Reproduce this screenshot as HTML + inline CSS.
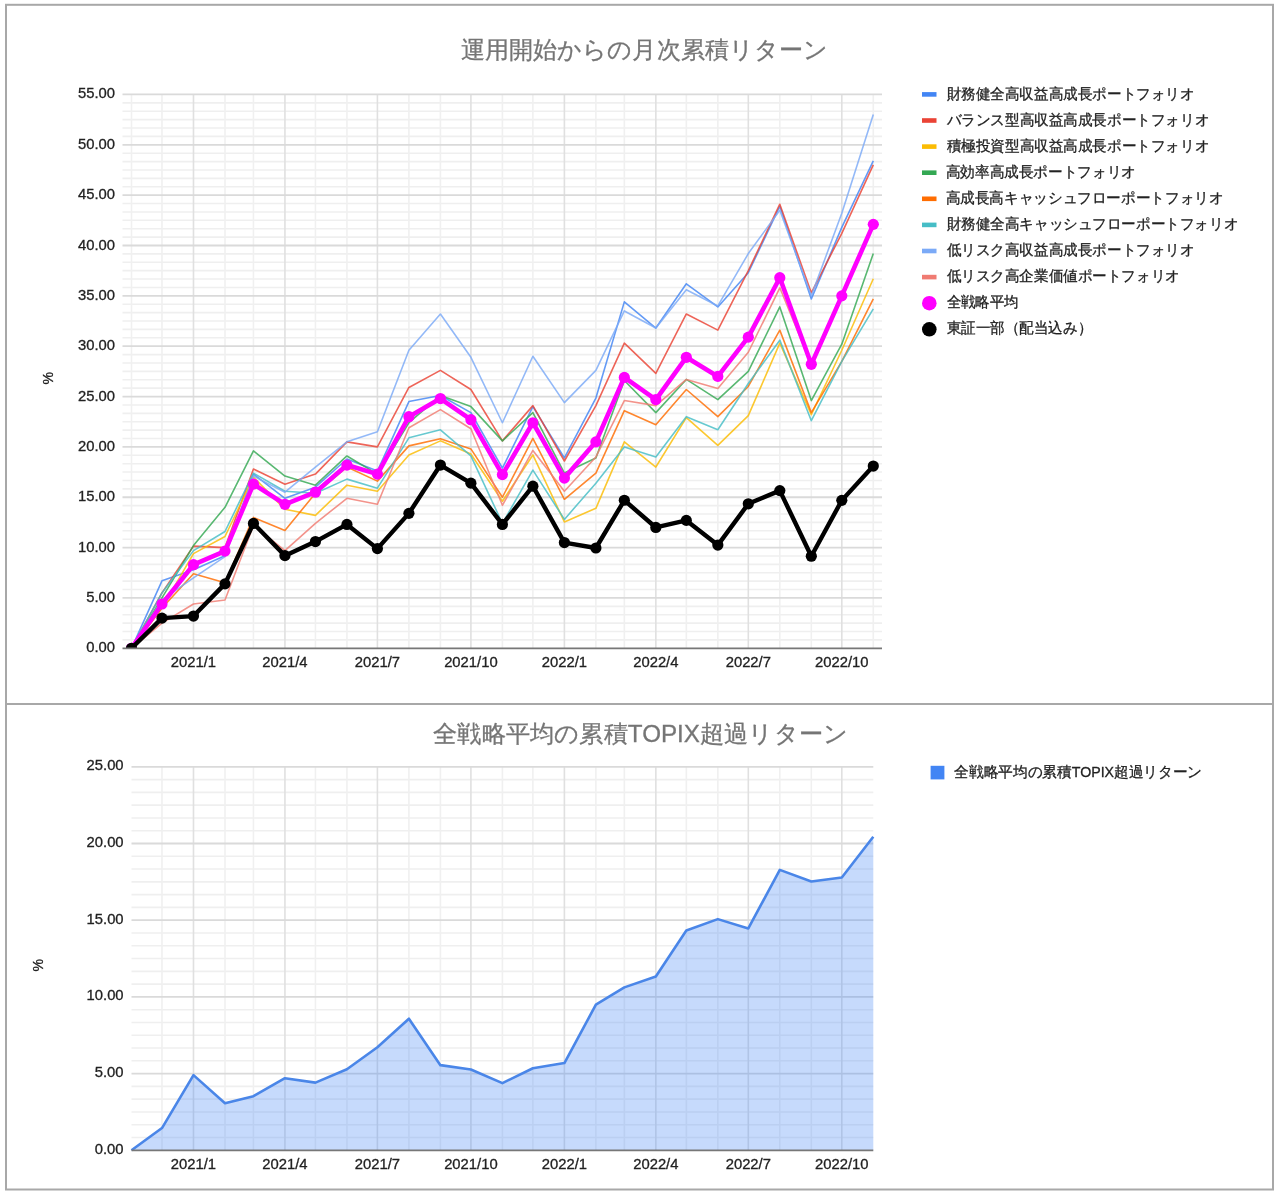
<!DOCTYPE html><html><head><meta charset="utf-8"><style>html,body{margin:0;padding:0;background:#fff;}svg{display:block;filter:blur(0.45px);}text{font-family:"Liberation Sans",sans-serif;stroke-width:0.3px;}</style></head><body>
<svg width="1279" height="1197" viewBox="0 0 1279 1197">
<rect x="0" y="0" width="1279" height="1197" fill="#fff"/>
<defs><clipPath id="cp1"><rect x="100" y="60" width="800" height="588.3"/></clipPath><clipPath id="cp2"><rect x="100" y="740" width="800" height="410.29999999999995"/></clipPath></defs>
<line x1="122.5" y1="639.91" x2="882.0" y2="639.91" stroke="#efefef" stroke-width="1.6"/>
<line x1="122.5" y1="631.52" x2="882.0" y2="631.52" stroke="#efefef" stroke-width="1.6"/>
<line x1="122.5" y1="623.12" x2="882.0" y2="623.12" stroke="#efefef" stroke-width="1.6"/>
<line x1="122.5" y1="614.73" x2="882.0" y2="614.73" stroke="#efefef" stroke-width="1.6"/>
<line x1="122.5" y1="606.34" x2="882.0" y2="606.34" stroke="#efefef" stroke-width="1.6"/>
<line x1="122.5" y1="589.56" x2="882.0" y2="589.56" stroke="#efefef" stroke-width="1.6"/>
<line x1="122.5" y1="581.17" x2="882.0" y2="581.17" stroke="#efefef" stroke-width="1.6"/>
<line x1="122.5" y1="572.77" x2="882.0" y2="572.77" stroke="#efefef" stroke-width="1.6"/>
<line x1="122.5" y1="564.38" x2="882.0" y2="564.38" stroke="#efefef" stroke-width="1.6"/>
<line x1="122.5" y1="555.99" x2="882.0" y2="555.99" stroke="#efefef" stroke-width="1.6"/>
<line x1="122.5" y1="539.21" x2="882.0" y2="539.21" stroke="#efefef" stroke-width="1.6"/>
<line x1="122.5" y1="530.82" x2="882.0" y2="530.82" stroke="#efefef" stroke-width="1.6"/>
<line x1="122.5" y1="522.42" x2="882.0" y2="522.42" stroke="#efefef" stroke-width="1.6"/>
<line x1="122.5" y1="514.03" x2="882.0" y2="514.03" stroke="#efefef" stroke-width="1.6"/>
<line x1="122.5" y1="505.64" x2="882.0" y2="505.64" stroke="#efefef" stroke-width="1.6"/>
<line x1="122.5" y1="488.86" x2="882.0" y2="488.86" stroke="#efefef" stroke-width="1.6"/>
<line x1="122.5" y1="480.47" x2="882.0" y2="480.47" stroke="#efefef" stroke-width="1.6"/>
<line x1="122.5" y1="472.07" x2="882.0" y2="472.07" stroke="#efefef" stroke-width="1.6"/>
<line x1="122.5" y1="463.68" x2="882.0" y2="463.68" stroke="#efefef" stroke-width="1.6"/>
<line x1="122.5" y1="455.29" x2="882.0" y2="455.29" stroke="#efefef" stroke-width="1.6"/>
<line x1="122.5" y1="438.51" x2="882.0" y2="438.51" stroke="#efefef" stroke-width="1.6"/>
<line x1="122.5" y1="430.12" x2="882.0" y2="430.12" stroke="#efefef" stroke-width="1.6"/>
<line x1="122.5" y1="421.72" x2="882.0" y2="421.72" stroke="#efefef" stroke-width="1.6"/>
<line x1="122.5" y1="413.33" x2="882.0" y2="413.33" stroke="#efefef" stroke-width="1.6"/>
<line x1="122.5" y1="404.94" x2="882.0" y2="404.94" stroke="#efefef" stroke-width="1.6"/>
<line x1="122.5" y1="388.16" x2="882.0" y2="388.16" stroke="#efefef" stroke-width="1.6"/>
<line x1="122.5" y1="379.77" x2="882.0" y2="379.77" stroke="#efefef" stroke-width="1.6"/>
<line x1="122.5" y1="371.37" x2="882.0" y2="371.37" stroke="#efefef" stroke-width="1.6"/>
<line x1="122.5" y1="362.98" x2="882.0" y2="362.98" stroke="#efefef" stroke-width="1.6"/>
<line x1="122.5" y1="354.59" x2="882.0" y2="354.59" stroke="#efefef" stroke-width="1.6"/>
<line x1="122.5" y1="337.81" x2="882.0" y2="337.81" stroke="#efefef" stroke-width="1.6"/>
<line x1="122.5" y1="329.42" x2="882.0" y2="329.42" stroke="#efefef" stroke-width="1.6"/>
<line x1="122.5" y1="321.02" x2="882.0" y2="321.02" stroke="#efefef" stroke-width="1.6"/>
<line x1="122.5" y1="312.63" x2="882.0" y2="312.63" stroke="#efefef" stroke-width="1.6"/>
<line x1="122.5" y1="304.24" x2="882.0" y2="304.24" stroke="#efefef" stroke-width="1.6"/>
<line x1="122.5" y1="287.46" x2="882.0" y2="287.46" stroke="#efefef" stroke-width="1.6"/>
<line x1="122.5" y1="279.07" x2="882.0" y2="279.07" stroke="#efefef" stroke-width="1.6"/>
<line x1="122.5" y1="270.67" x2="882.0" y2="270.67" stroke="#efefef" stroke-width="1.6"/>
<line x1="122.5" y1="262.28" x2="882.0" y2="262.28" stroke="#efefef" stroke-width="1.6"/>
<line x1="122.5" y1="253.89" x2="882.0" y2="253.89" stroke="#efefef" stroke-width="1.6"/>
<line x1="122.5" y1="237.11" x2="882.0" y2="237.11" stroke="#efefef" stroke-width="1.6"/>
<line x1="122.5" y1="228.72" x2="882.0" y2="228.72" stroke="#efefef" stroke-width="1.6"/>
<line x1="122.5" y1="220.32" x2="882.0" y2="220.32" stroke="#efefef" stroke-width="1.6"/>
<line x1="122.5" y1="211.93" x2="882.0" y2="211.93" stroke="#efefef" stroke-width="1.6"/>
<line x1="122.5" y1="203.54" x2="882.0" y2="203.54" stroke="#efefef" stroke-width="1.6"/>
<line x1="122.5" y1="186.76" x2="882.0" y2="186.76" stroke="#efefef" stroke-width="1.6"/>
<line x1="122.5" y1="178.37" x2="882.0" y2="178.37" stroke="#efefef" stroke-width="1.6"/>
<line x1="122.5" y1="169.97" x2="882.0" y2="169.97" stroke="#efefef" stroke-width="1.6"/>
<line x1="122.5" y1="161.58" x2="882.0" y2="161.58" stroke="#efefef" stroke-width="1.6"/>
<line x1="122.5" y1="153.19" x2="882.0" y2="153.19" stroke="#efefef" stroke-width="1.6"/>
<line x1="122.5" y1="136.41" x2="882.0" y2="136.41" stroke="#efefef" stroke-width="1.6"/>
<line x1="122.5" y1="128.02" x2="882.0" y2="128.02" stroke="#efefef" stroke-width="1.6"/>
<line x1="122.5" y1="119.62" x2="882.0" y2="119.62" stroke="#efefef" stroke-width="1.6"/>
<line x1="122.5" y1="111.23" x2="882.0" y2="111.23" stroke="#efefef" stroke-width="1.6"/>
<line x1="122.5" y1="102.84" x2="882.0" y2="102.84" stroke="#efefef" stroke-width="1.6"/>
<line x1="131.50" y1="94.45" x2="131.50" y2="648.30" stroke="#f0f0f0" stroke-width="1.6"/>
<line x1="161.98" y1="94.45" x2="161.98" y2="648.30" stroke="#f0f0f0" stroke-width="1.6"/>
<line x1="193.49" y1="94.45" x2="193.49" y2="648.30" stroke="#e0e0e0" stroke-width="1.6"/>
<line x1="224.99" y1="94.45" x2="224.99" y2="648.30" stroke="#f0f0f0" stroke-width="1.6"/>
<line x1="253.44" y1="94.45" x2="253.44" y2="648.30" stroke="#f0f0f0" stroke-width="1.6"/>
<line x1="284.94" y1="94.45" x2="284.94" y2="648.30" stroke="#e0e0e0" stroke-width="1.6"/>
<line x1="315.43" y1="94.45" x2="315.43" y2="648.30" stroke="#f0f0f0" stroke-width="1.6"/>
<line x1="346.93" y1="94.45" x2="346.93" y2="648.30" stroke="#f0f0f0" stroke-width="1.6"/>
<line x1="377.41" y1="94.45" x2="377.41" y2="648.30" stroke="#e0e0e0" stroke-width="1.6"/>
<line x1="408.91" y1="94.45" x2="408.91" y2="648.30" stroke="#f0f0f0" stroke-width="1.6"/>
<line x1="440.41" y1="94.45" x2="440.41" y2="648.30" stroke="#f0f0f0" stroke-width="1.6"/>
<line x1="470.90" y1="94.45" x2="470.90" y2="648.30" stroke="#e0e0e0" stroke-width="1.6"/>
<line x1="502.40" y1="94.45" x2="502.40" y2="648.30" stroke="#f0f0f0" stroke-width="1.6"/>
<line x1="532.88" y1="94.45" x2="532.88" y2="648.30" stroke="#f0f0f0" stroke-width="1.6"/>
<line x1="564.39" y1="94.45" x2="564.39" y2="648.30" stroke="#e0e0e0" stroke-width="1.6"/>
<line x1="595.89" y1="94.45" x2="595.89" y2="648.30" stroke="#f0f0f0" stroke-width="1.6"/>
<line x1="624.34" y1="94.45" x2="624.34" y2="648.30" stroke="#f0f0f0" stroke-width="1.6"/>
<line x1="655.84" y1="94.45" x2="655.84" y2="648.30" stroke="#e0e0e0" stroke-width="1.6"/>
<line x1="686.33" y1="94.45" x2="686.33" y2="648.30" stroke="#f0f0f0" stroke-width="1.6"/>
<line x1="717.83" y1="94.45" x2="717.83" y2="648.30" stroke="#f0f0f0" stroke-width="1.6"/>
<line x1="748.31" y1="94.45" x2="748.31" y2="648.30" stroke="#e0e0e0" stroke-width="1.6"/>
<line x1="779.81" y1="94.45" x2="779.81" y2="648.30" stroke="#f0f0f0" stroke-width="1.6"/>
<line x1="811.31" y1="94.45" x2="811.31" y2="648.30" stroke="#f0f0f0" stroke-width="1.6"/>
<line x1="841.80" y1="94.45" x2="841.80" y2="648.30" stroke="#e0e0e0" stroke-width="1.6"/>
<line x1="873.30" y1="94.45" x2="873.30" y2="648.30" stroke="#f0f0f0" stroke-width="1.6"/>
<line x1="122.5" y1="597.95" x2="882.0" y2="597.95" stroke="#dadada" stroke-width="1.8"/>
<line x1="122.5" y1="547.60" x2="882.0" y2="547.60" stroke="#dadada" stroke-width="1.8"/>
<line x1="122.5" y1="497.25" x2="882.0" y2="497.25" stroke="#dadada" stroke-width="1.8"/>
<line x1="122.5" y1="446.90" x2="882.0" y2="446.90" stroke="#dadada" stroke-width="1.8"/>
<line x1="122.5" y1="396.55" x2="882.0" y2="396.55" stroke="#dadada" stroke-width="1.8"/>
<line x1="122.5" y1="346.20" x2="882.0" y2="346.20" stroke="#dadada" stroke-width="1.8"/>
<line x1="122.5" y1="295.85" x2="882.0" y2="295.85" stroke="#dadada" stroke-width="1.8"/>
<line x1="122.5" y1="245.50" x2="882.0" y2="245.50" stroke="#dadada" stroke-width="1.8"/>
<line x1="122.5" y1="195.15" x2="882.0" y2="195.15" stroke="#dadada" stroke-width="1.8"/>
<line x1="122.5" y1="144.80" x2="882.0" y2="144.80" stroke="#dadada" stroke-width="1.8"/>
<line x1="122.5" y1="94.45" x2="882.0" y2="94.45" stroke="#dadada" stroke-width="1.8"/>
<text x="115" y="652.30" font-size="14.8" fill="#222" stroke="#222" text-anchor="end">0.00</text>
<text x="115" y="601.95" font-size="14.8" fill="#222" stroke="#222" text-anchor="end">5.00</text>
<text x="115" y="551.60" font-size="14.8" fill="#222" stroke="#222" text-anchor="end">10.00</text>
<text x="115" y="501.25" font-size="14.8" fill="#222" stroke="#222" text-anchor="end">15.00</text>
<text x="115" y="450.90" font-size="14.8" fill="#222" stroke="#222" text-anchor="end">20.00</text>
<text x="115" y="400.55" font-size="14.8" fill="#222" stroke="#222" text-anchor="end">25.00</text>
<text x="115" y="350.20" font-size="14.8" fill="#222" stroke="#222" text-anchor="end">30.00</text>
<text x="115" y="299.85" font-size="14.8" fill="#222" stroke="#222" text-anchor="end">35.00</text>
<text x="115" y="249.50" font-size="14.8" fill="#222" stroke="#222" text-anchor="end">40.00</text>
<text x="115" y="199.15" font-size="14.8" fill="#222" stroke="#222" text-anchor="end">45.00</text>
<text x="115" y="148.80" font-size="14.8" fill="#222" stroke="#222" text-anchor="end">50.00</text>
<text x="115" y="98.45" font-size="14.8" fill="#222" stroke="#222" text-anchor="end">55.00</text>
<text x="193.49" y="667" font-size="14.8" fill="#222" stroke="#222" text-anchor="middle">2021/1</text>
<text x="284.94" y="667" font-size="14.8" fill="#222" stroke="#222" text-anchor="middle">2021/4</text>
<text x="377.41" y="667" font-size="14.8" fill="#222" stroke="#222" text-anchor="middle">2021/7</text>
<text x="470.90" y="667" font-size="14.8" fill="#222" stroke="#222" text-anchor="middle">2021/10</text>
<text x="564.39" y="667" font-size="14.8" fill="#222" stroke="#222" text-anchor="middle">2022/1</text>
<text x="655.84" y="667" font-size="14.8" fill="#222" stroke="#222" text-anchor="middle">2022/4</text>
<text x="748.31" y="667" font-size="14.8" fill="#222" stroke="#222" text-anchor="middle">2022/7</text>
<text x="841.80" y="667" font-size="14.8" fill="#222" stroke="#222" text-anchor="middle">2022/10</text>
<text x="0" y="0" font-size="14" fill="#222" stroke="#222" text-anchor="middle" transform="translate(53.4,378.3) rotate(-90)">%</text>
<g clip-path="url(#cp1)">
<polyline points="131.50,648.30 161.98,580.83 193.49,569.75 224.99,555.66 253.44,474.09 284.94,498.26 315.43,487.18 346.93,458.98 377.41,471.07 408.91,401.58 440.41,395.54 470.90,412.66 502.40,468.05 532.88,406.62 564.39,457.98 595.89,398.06 624.34,301.89 655.84,328.07 686.33,283.77 717.83,306.93 748.31,272.69 779.81,206.23 811.31,298.87 841.80,227.37 873.30,160.91" fill="none" stroke="#4285f4" stroke-width="1.6" stroke-linejoin="round" stroke-opacity="0.82"/>
<polyline points="131.50,648.30 161.98,592.91 193.49,546.09 224.99,547.60 253.44,469.05 284.94,484.16 315.43,474.09 346.93,441.86 377.41,446.90 408.91,387.49 440.41,370.37 470.90,389.50 502.40,440.86 532.88,405.61 564.39,461.00 595.89,405.61 624.34,343.18 655.84,373.39 686.33,313.98 717.83,330.09 748.31,270.67 779.81,204.21 811.31,292.83 841.80,233.42 873.30,164.94" fill="none" stroke="#ea4335" stroke-width="1.6" stroke-linejoin="round" stroke-opacity="0.82"/>
<polyline points="131.50,648.30 161.98,608.02 193.49,553.64 224.99,536.52 253.44,477.11 284.94,509.33 315.43,515.38 346.93,485.17 377.41,491.21 408.91,454.96 440.41,440.86 470.90,453.95 502.40,501.28 532.88,454.96 564.39,521.92 595.89,508.33 624.34,441.86 655.84,467.04 686.33,417.70 717.83,445.39 748.31,415.68 779.81,343.18 811.31,414.68 841.80,350.23 873.30,278.73" fill="none" stroke="#fbbc04" stroke-width="1.6" stroke-linejoin="round" stroke-opacity="0.82"/>
<polyline points="131.50,648.30 161.98,597.95 193.49,545.59 224.99,507.32 253.44,450.93 284.94,476.10 315.43,485.17 346.93,455.96 377.41,474.09 408.91,422.73 440.41,395.54 470.90,406.62 502.40,440.86 532.88,412.66 564.39,473.08 595.89,457.98 624.34,380.44 655.84,412.66 686.33,379.43 717.83,399.57 748.31,371.37 779.81,306.93 811.31,400.58 841.80,344.19 873.30,253.56" fill="none" stroke="#34a853" stroke-width="1.6" stroke-linejoin="round" stroke-opacity="0.82"/>
<polyline points="131.50,648.30 161.98,608.02 193.49,573.78 224.99,582.84 253.44,517.39 284.94,530.48 315.43,493.22 346.93,467.04 377.41,481.14 408.91,445.89 440.41,438.84 470.90,448.91 502.40,497.25 532.88,438.34 564.39,499.26 595.89,473.08 624.34,410.65 655.84,424.75 686.33,389.50 717.83,416.69 748.31,386.48 779.81,330.09 811.31,412.66 841.80,361.30 873.30,298.87" fill="none" stroke="#ff6d01" stroke-width="1.6" stroke-linejoin="round" stroke-opacity="0.82"/>
<polyline points="131.50,648.30 161.98,592.91 193.49,550.62 224.99,531.49 253.44,473.08 284.94,491.21 315.43,493.22 346.93,479.12 377.41,488.19 408.91,437.84 440.41,429.78 470.90,455.96 502.40,523.43 532.88,470.06 564.39,519.40 595.89,483.15 624.34,446.90 655.84,456.97 686.33,416.69 717.83,429.78 748.31,383.46 779.81,340.16 811.31,420.72 841.80,361.30 873.30,308.94" fill="none" stroke="#46bdc6" stroke-width="1.6" stroke-linejoin="round" stroke-opacity="0.82"/>
<polyline points="131.50,648.30 161.98,599.96 193.49,577.81 224.99,556.66 253.44,476.10 284.94,492.21 315.43,467.04 346.93,441.86 377.41,431.79 408.91,350.23 440.41,313.98 470.90,357.28 502.40,422.73 532.88,356.27 564.39,402.59 595.89,370.37 624.34,310.95 655.84,328.07 686.33,289.81 717.83,305.92 748.31,253.56 779.81,210.25 811.31,295.85 841.80,213.28 873.30,114.59" fill="none" stroke="#7baaf7" stroke-width="1.6" stroke-linejoin="round" stroke-opacity="0.82"/>
<polyline points="131.50,648.30 161.98,623.12 193.49,603.99 224.99,599.96 253.44,525.45 284.94,550.62 315.43,523.43 346.93,498.26 377.41,504.30 408.91,427.77 440.41,409.64 470.90,428.77 502.40,505.31 532.88,450.42 564.39,491.21 595.89,456.97 624.34,400.58 655.84,405.61 686.33,379.43 717.83,388.49 748.31,352.24 779.81,287.79 811.31,364.33 841.80,295.85 873.30,224.35" fill="none" stroke="#f07b72" stroke-width="1.6" stroke-linejoin="round" stroke-opacity="0.82"/>
<polyline points="131.50,648.30 161.98,603.99 193.49,564.72 224.99,551.12 253.44,484.16 284.94,504.30 315.43,492.21 346.93,465.03 377.41,474.09 408.91,416.69 440.41,398.56 470.90,419.71 502.40,474.59 532.88,422.73 564.39,478.12 595.89,441.86 624.34,377.42 655.84,399.57 686.33,357.28 717.83,376.41 748.31,337.14 779.81,277.72 811.31,364.33 841.80,295.85 873.30,224.35" fill="none" stroke="#ff00ff" stroke-width="4.6" stroke-linejoin="round"/>
<circle cx="131.50" cy="648.30" r="5.6" fill="#ff00ff"/>
<circle cx="161.98" cy="603.99" r="5.6" fill="#ff00ff"/>
<circle cx="193.49" cy="564.72" r="5.6" fill="#ff00ff"/>
<circle cx="224.99" cy="551.12" r="5.6" fill="#ff00ff"/>
<circle cx="253.44" cy="484.16" r="5.6" fill="#ff00ff"/>
<circle cx="284.94" cy="504.30" r="5.6" fill="#ff00ff"/>
<circle cx="315.43" cy="492.21" r="5.6" fill="#ff00ff"/>
<circle cx="346.93" cy="465.03" r="5.6" fill="#ff00ff"/>
<circle cx="377.41" cy="474.09" r="5.6" fill="#ff00ff"/>
<circle cx="408.91" cy="416.69" r="5.6" fill="#ff00ff"/>
<circle cx="440.41" cy="398.56" r="5.6" fill="#ff00ff"/>
<circle cx="470.90" cy="419.71" r="5.6" fill="#ff00ff"/>
<circle cx="502.40" cy="474.59" r="5.6" fill="#ff00ff"/>
<circle cx="532.88" cy="422.73" r="5.6" fill="#ff00ff"/>
<circle cx="564.39" cy="478.12" r="5.6" fill="#ff00ff"/>
<circle cx="595.89" cy="441.86" r="5.6" fill="#ff00ff"/>
<circle cx="624.34" cy="377.42" r="5.6" fill="#ff00ff"/>
<circle cx="655.84" cy="399.57" r="5.6" fill="#ff00ff"/>
<circle cx="686.33" cy="357.28" r="5.6" fill="#ff00ff"/>
<circle cx="717.83" cy="376.41" r="5.6" fill="#ff00ff"/>
<circle cx="748.31" cy="337.14" r="5.6" fill="#ff00ff"/>
<circle cx="779.81" cy="277.72" r="5.6" fill="#ff00ff"/>
<circle cx="811.31" cy="364.33" r="5.6" fill="#ff00ff"/>
<circle cx="841.80" cy="295.85" r="5.6" fill="#ff00ff"/>
<circle cx="873.30" cy="224.35" r="5.6" fill="#ff00ff"/>
<polyline points="131.50,648.30 161.98,618.09 193.49,616.08 224.99,583.85 253.44,523.43 284.94,555.66 315.43,541.56 346.93,524.44 377.41,548.61 408.91,513.36 440.41,465.03 470.90,483.15 502.40,524.44 532.88,486.17 564.39,542.56 595.89,548.00 624.34,500.27 655.84,527.46 686.33,520.41 717.83,545.08 748.31,503.80 779.81,490.60 811.31,556.26 841.80,500.37 873.30,466.03" fill="none" stroke="#000" stroke-width="4.4" stroke-linejoin="round"/>
<circle cx="131.50" cy="648.30" r="5.6" fill="#000"/>
<circle cx="161.98" cy="618.09" r="5.6" fill="#000"/>
<circle cx="193.49" cy="616.08" r="5.6" fill="#000"/>
<circle cx="224.99" cy="583.85" r="5.6" fill="#000"/>
<circle cx="253.44" cy="523.43" r="5.6" fill="#000"/>
<circle cx="284.94" cy="555.66" r="5.6" fill="#000"/>
<circle cx="315.43" cy="541.56" r="5.6" fill="#000"/>
<circle cx="346.93" cy="524.44" r="5.6" fill="#000"/>
<circle cx="377.41" cy="548.61" r="5.6" fill="#000"/>
<circle cx="408.91" cy="513.36" r="5.6" fill="#000"/>
<circle cx="440.41" cy="465.03" r="5.6" fill="#000"/>
<circle cx="470.90" cy="483.15" r="5.6" fill="#000"/>
<circle cx="502.40" cy="524.44" r="5.6" fill="#000"/>
<circle cx="532.88" cy="486.17" r="5.6" fill="#000"/>
<circle cx="564.39" cy="542.56" r="5.6" fill="#000"/>
<circle cx="595.89" cy="548.00" r="5.6" fill="#000"/>
<circle cx="624.34" cy="500.27" r="5.6" fill="#000"/>
<circle cx="655.84" cy="527.46" r="5.6" fill="#000"/>
<circle cx="686.33" cy="520.41" r="5.6" fill="#000"/>
<circle cx="717.83" cy="545.08" r="5.6" fill="#000"/>
<circle cx="748.31" cy="503.80" r="5.6" fill="#000"/>
<circle cx="779.81" cy="490.60" r="5.6" fill="#000"/>
<circle cx="811.31" cy="556.26" r="5.6" fill="#000"/>
<circle cx="841.80" cy="500.37" r="5.6" fill="#000"/>
<circle cx="873.30" cy="466.03" r="5.6" fill="#000"/>
</g>
<line x1="122.5" y1="648.3" x2="882.0" y2="648.3" stroke="#777" stroke-width="1.7"/>
<text x="460.90" y="58.00" font-size="24" fill="#757575" textLength="367.20" lengthAdjust="spacingAndGlyphs" stroke="#757575">運用開始からの月次累積リターン</text>
<rect x="922" y="92.10" width="14.5" height="4.6" fill="#4285f4"/>
<text x="946.60" y="98.50" font-size="14.5" fill="#222" textLength="247.80" lengthAdjust="spacingAndGlyphs" stroke="#222">財務健全高収益高成長ポートフォリオ</text>
<rect x="922" y="118.20" width="14.5" height="4.6" fill="#ea4335"/>
<text x="946.60" y="124.60" font-size="14.5" fill="#222" textLength="262.60" lengthAdjust="spacingAndGlyphs" stroke="#222">バランス型高収益高成長ポートフォリオ</text>
<rect x="922" y="144.30" width="14.5" height="4.6" fill="#fbbc04"/>
<text x="946.60" y="150.70" font-size="14.5" fill="#222" textLength="262.60" lengthAdjust="spacingAndGlyphs" stroke="#222">積極投資型高収益高成長ポートフォリオ</text>
<rect x="922" y="170.40" width="14.5" height="4.6" fill="#34a853"/>
<text x="945.60" y="176.80" font-size="14.5" fill="#222" textLength="190.40" lengthAdjust="spacingAndGlyphs" stroke="#222">高効率高成長ポートフォリオ</text>
<rect x="922" y="196.50" width="14.5" height="4.6" fill="#ff6d01"/>
<text x="945.60" y="202.90" font-size="14.5" fill="#222" textLength="277.80" lengthAdjust="spacingAndGlyphs" stroke="#222">高成長高キャッシュフローポートフォリオ</text>
<rect x="922" y="222.60" width="14.5" height="4.6" fill="#46bdc6"/>
<text x="946.60" y="229.00" font-size="14.5" fill="#222" textLength="291.50" lengthAdjust="spacingAndGlyphs" stroke="#222">財務健全高キャッシュフローポートフォリオ</text>
<rect x="922" y="248.70" width="14.5" height="4.6" fill="#7baaf7"/>
<text x="946.60" y="255.10" font-size="14.5" fill="#222" textLength="247.80" lengthAdjust="spacingAndGlyphs" stroke="#222">低リスク高収益高成長ポートフォリオ</text>
<rect x="922" y="274.80" width="14.5" height="4.6" fill="#f07b72"/>
<text x="946.60" y="281.20" font-size="14.5" fill="#222" textLength="233.10" lengthAdjust="spacingAndGlyphs" stroke="#222">低リスク高企業価値ポートフォリオ</text>
<circle cx="929.3" cy="303.20" r="7.3" fill="#ff00ff"/>
<text x="946.60" y="307.30" font-size="14.5" fill="#222" textLength="72.00" lengthAdjust="spacingAndGlyphs" stroke="#222">全戦略平均</text>
<circle cx="929.3" cy="329.30" r="7.3" fill="#000"/>
<text x="946.60" y="333.40" font-size="14.5" fill="#222" textLength="145.50" lengthAdjust="spacingAndGlyphs" stroke="#222">東証一部（配当込み）</text>
<line x1="131.50" y1="1137.52" x2="873.30" y2="1137.52" stroke="#efefef" stroke-width="1.6"/>
<line x1="131.50" y1="1124.73" x2="873.30" y2="1124.73" stroke="#efefef" stroke-width="1.6"/>
<line x1="131.50" y1="1111.95" x2="873.30" y2="1111.95" stroke="#efefef" stroke-width="1.6"/>
<line x1="131.50" y1="1099.17" x2="873.30" y2="1099.17" stroke="#efefef" stroke-width="1.6"/>
<line x1="131.50" y1="1086.38" x2="873.30" y2="1086.38" stroke="#efefef" stroke-width="1.6"/>
<line x1="131.50" y1="1060.82" x2="873.30" y2="1060.82" stroke="#efefef" stroke-width="1.6"/>
<line x1="131.50" y1="1048.03" x2="873.30" y2="1048.03" stroke="#efefef" stroke-width="1.6"/>
<line x1="131.50" y1="1035.25" x2="873.30" y2="1035.25" stroke="#efefef" stroke-width="1.6"/>
<line x1="131.50" y1="1022.47" x2="873.30" y2="1022.47" stroke="#efefef" stroke-width="1.6"/>
<line x1="131.50" y1="1009.68" x2="873.30" y2="1009.68" stroke="#efefef" stroke-width="1.6"/>
<line x1="131.50" y1="984.12" x2="873.30" y2="984.12" stroke="#efefef" stroke-width="1.6"/>
<line x1="131.50" y1="971.33" x2="873.30" y2="971.33" stroke="#efefef" stroke-width="1.6"/>
<line x1="131.50" y1="958.55" x2="873.30" y2="958.55" stroke="#efefef" stroke-width="1.6"/>
<line x1="131.50" y1="945.77" x2="873.30" y2="945.77" stroke="#efefef" stroke-width="1.6"/>
<line x1="131.50" y1="932.98" x2="873.30" y2="932.98" stroke="#efefef" stroke-width="1.6"/>
<line x1="131.50" y1="907.42" x2="873.30" y2="907.42" stroke="#efefef" stroke-width="1.6"/>
<line x1="131.50" y1="894.63" x2="873.30" y2="894.63" stroke="#efefef" stroke-width="1.6"/>
<line x1="131.50" y1="881.85" x2="873.30" y2="881.85" stroke="#efefef" stroke-width="1.6"/>
<line x1="131.50" y1="869.07" x2="873.30" y2="869.07" stroke="#efefef" stroke-width="1.6"/>
<line x1="131.50" y1="856.28" x2="873.30" y2="856.28" stroke="#efefef" stroke-width="1.6"/>
<line x1="131.50" y1="830.72" x2="873.30" y2="830.72" stroke="#efefef" stroke-width="1.6"/>
<line x1="131.50" y1="817.93" x2="873.30" y2="817.93" stroke="#efefef" stroke-width="1.6"/>
<line x1="131.50" y1="805.15" x2="873.30" y2="805.15" stroke="#efefef" stroke-width="1.6"/>
<line x1="131.50" y1="792.37" x2="873.30" y2="792.37" stroke="#efefef" stroke-width="1.6"/>
<line x1="131.50" y1="779.58" x2="873.30" y2="779.58" stroke="#efefef" stroke-width="1.6"/>
<line x1="161.98" y1="766.80" x2="161.98" y2="1150.30" stroke="#f0f0f0" stroke-width="1.6"/>
<line x1="193.49" y1="766.80" x2="193.49" y2="1150.30" stroke="#e0e0e0" stroke-width="1.6"/>
<line x1="224.99" y1="766.80" x2="224.99" y2="1150.30" stroke="#f0f0f0" stroke-width="1.6"/>
<line x1="253.44" y1="766.80" x2="253.44" y2="1150.30" stroke="#f0f0f0" stroke-width="1.6"/>
<line x1="284.94" y1="766.80" x2="284.94" y2="1150.30" stroke="#e0e0e0" stroke-width="1.6"/>
<line x1="315.43" y1="766.80" x2="315.43" y2="1150.30" stroke="#f0f0f0" stroke-width="1.6"/>
<line x1="346.93" y1="766.80" x2="346.93" y2="1150.30" stroke="#f0f0f0" stroke-width="1.6"/>
<line x1="377.41" y1="766.80" x2="377.41" y2="1150.30" stroke="#e0e0e0" stroke-width="1.6"/>
<line x1="408.91" y1="766.80" x2="408.91" y2="1150.30" stroke="#f0f0f0" stroke-width="1.6"/>
<line x1="440.41" y1="766.80" x2="440.41" y2="1150.30" stroke="#f0f0f0" stroke-width="1.6"/>
<line x1="470.90" y1="766.80" x2="470.90" y2="1150.30" stroke="#e0e0e0" stroke-width="1.6"/>
<line x1="502.40" y1="766.80" x2="502.40" y2="1150.30" stroke="#f0f0f0" stroke-width="1.6"/>
<line x1="532.88" y1="766.80" x2="532.88" y2="1150.30" stroke="#f0f0f0" stroke-width="1.6"/>
<line x1="564.39" y1="766.80" x2="564.39" y2="1150.30" stroke="#e0e0e0" stroke-width="1.6"/>
<line x1="595.89" y1="766.80" x2="595.89" y2="1150.30" stroke="#f0f0f0" stroke-width="1.6"/>
<line x1="624.34" y1="766.80" x2="624.34" y2="1150.30" stroke="#f0f0f0" stroke-width="1.6"/>
<line x1="655.84" y1="766.80" x2="655.84" y2="1150.30" stroke="#e0e0e0" stroke-width="1.6"/>
<line x1="686.33" y1="766.80" x2="686.33" y2="1150.30" stroke="#f0f0f0" stroke-width="1.6"/>
<line x1="717.83" y1="766.80" x2="717.83" y2="1150.30" stroke="#f0f0f0" stroke-width="1.6"/>
<line x1="748.31" y1="766.80" x2="748.31" y2="1150.30" stroke="#e0e0e0" stroke-width="1.6"/>
<line x1="779.81" y1="766.80" x2="779.81" y2="1150.30" stroke="#f0f0f0" stroke-width="1.6"/>
<line x1="811.31" y1="766.80" x2="811.31" y2="1150.30" stroke="#f0f0f0" stroke-width="1.6"/>
<line x1="841.80" y1="766.80" x2="841.80" y2="1150.30" stroke="#e0e0e0" stroke-width="1.6"/>
<line x1="131.50" y1="1073.60" x2="873.30" y2="1073.60" stroke="#dadada" stroke-width="1.8"/>
<line x1="131.50" y1="996.90" x2="873.30" y2="996.90" stroke="#dadada" stroke-width="1.8"/>
<line x1="131.50" y1="920.20" x2="873.30" y2="920.20" stroke="#dadada" stroke-width="1.8"/>
<line x1="131.50" y1="843.50" x2="873.30" y2="843.50" stroke="#dadada" stroke-width="1.8"/>
<line x1="131.50" y1="766.80" x2="873.30" y2="766.80" stroke="#dadada" stroke-width="1.8"/>
<text x="123.6" y="1153.80" font-size="14.8" fill="#222" stroke="#222" text-anchor="end">0.00</text>
<text x="123.6" y="1077.10" font-size="14.8" fill="#222" stroke="#222" text-anchor="end">5.00</text>
<text x="123.6" y="1000.40" font-size="14.8" fill="#222" stroke="#222" text-anchor="end">10.00</text>
<text x="123.6" y="923.70" font-size="14.8" fill="#222" stroke="#222" text-anchor="end">15.00</text>
<text x="123.6" y="847.00" font-size="14.8" fill="#222" stroke="#222" text-anchor="end">20.00</text>
<text x="123.6" y="770.30" font-size="14.8" fill="#222" stroke="#222" text-anchor="end">25.00</text>
<text x="193.49" y="1169" font-size="14.8" fill="#222" stroke="#222" text-anchor="middle">2021/1</text>
<text x="284.94" y="1169" font-size="14.8" fill="#222" stroke="#222" text-anchor="middle">2021/4</text>
<text x="377.41" y="1169" font-size="14.8" fill="#222" stroke="#222" text-anchor="middle">2021/7</text>
<text x="470.90" y="1169" font-size="14.8" fill="#222" stroke="#222" text-anchor="middle">2021/10</text>
<text x="564.39" y="1169" font-size="14.8" fill="#222" stroke="#222" text-anchor="middle">2022/1</text>
<text x="655.84" y="1169" font-size="14.8" fill="#222" stroke="#222" text-anchor="middle">2022/4</text>
<text x="748.31" y="1169" font-size="14.8" fill="#222" stroke="#222" text-anchor="middle">2022/7</text>
<text x="841.80" y="1169" font-size="14.8" fill="#222" stroke="#222" text-anchor="middle">2022/10</text>
<text x="0" y="0" font-size="14" fill="#222" stroke="#222" text-anchor="middle" transform="translate(42.9,965.4) rotate(-90)">%</text>
<polygon points="131.50,1150.3 131.50,1150.30 161.98,1128.06 193.49,1075.13 224.99,1103.21 253.44,1096.15 284.94,1078.20 315.43,1082.65 346.93,1069.30 377.41,1047.22 408.91,1018.68 440.41,1065.16 470.90,1069.46 502.40,1083.11 532.88,1068.23 564.39,1063.02 595.89,1004.72 624.34,987.39 655.84,976.50 686.33,930.48 717.83,919.13 748.31,928.48 779.81,869.88 811.31,881.54 841.80,877.55 873.30,836.75 873.30,1150.3" fill="#4285f4" fill-opacity="0.3"/>
<polyline points="131.50,1150.30 161.98,1128.06 193.49,1075.13 224.99,1103.21 253.44,1096.15 284.94,1078.20 315.43,1082.65 346.93,1069.30 377.41,1047.22 408.91,1018.68 440.41,1065.16 470.90,1069.46 502.40,1083.11 532.88,1068.23 564.39,1063.02 595.89,1004.72 624.34,987.39 655.84,976.50 686.33,930.48 717.83,919.13 748.31,928.48 779.81,869.88 811.31,881.54 841.80,877.55 873.30,836.75" fill="none" stroke="#4a86e8" stroke-width="2.6" stroke-linejoin="round"/>
<line x1="131.50" y1="1150.3" x2="873.30" y2="1150.3" stroke="#777" stroke-width="1.7"/>
<text x="433.30" y="742.00" font-size="24" fill="#757575" textLength="414.80" lengthAdjust="spacingAndGlyphs" stroke="#757575">全戦略平均の累積TOPIX超過リターン</text>
<rect x="930.6" y="765.8" width="13.8" height="13.6" fill="#4285f4"/>
<text x="954.40" y="777.30" font-size="14.5" fill="#222" textLength="247.70" lengthAdjust="spacingAndGlyphs" stroke="#222">全戦略平均の累積TOPIX超過リターン</text>
<rect x="6" y="4.8" width="1267" height="1184.7" fill="none" stroke="#a8a8a8" stroke-width="2"/>
<line x1="6" y1="704" x2="1273" y2="704" stroke="#a8a8a8" stroke-width="2"/>
</svg></body></html>
